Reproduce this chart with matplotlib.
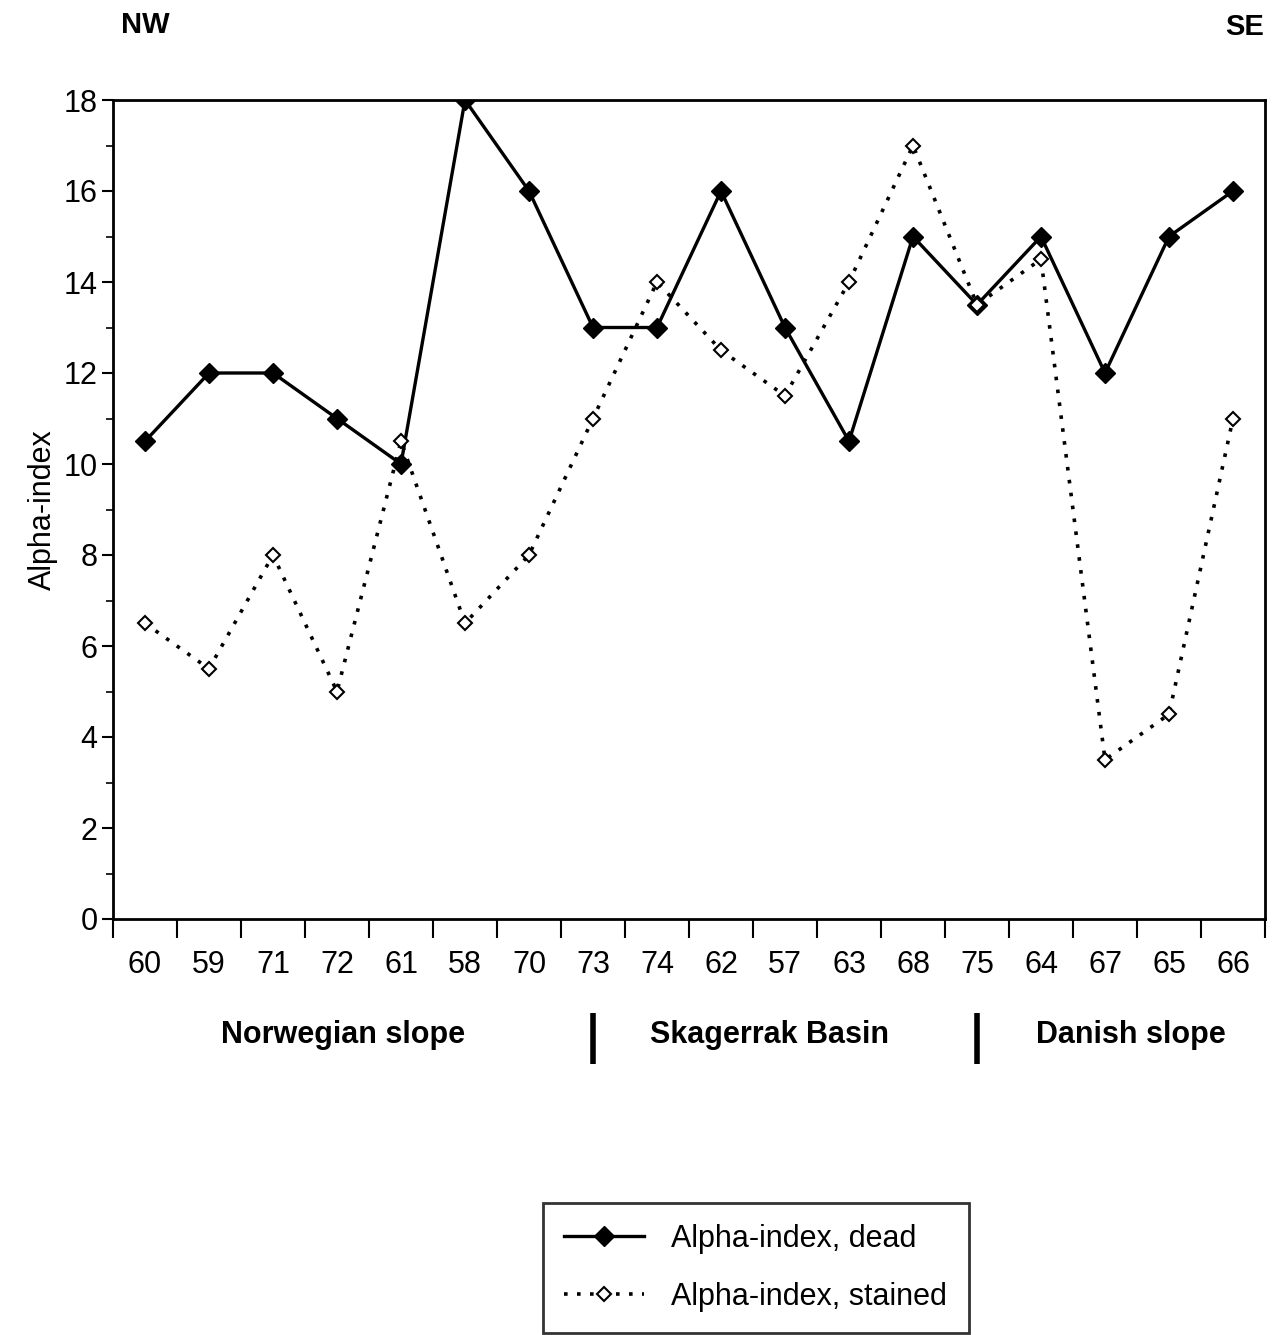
import numpy as np
import matplotlib.pyplot as plt
from matplotlib.ticker import MultipleLocator

plt.rcParams['font.family'] = ['Liberation Sans', 'DejaVu Sans']

stations = ['60', '59', '71', '72', '61', '58', '70', '73', '74',
            '62', '57', '63', '68', '75', '64', '67', '65', '66']
dead = [10.5, 12, 12, 11, 10, 18, 16, 13, 13,
        16, 13, 10.5, 15, 13.5, 15, 12, 15, 16]
stained = [6.5, 5.5, 8, 5, 10.5, 6.5, 8, 11, 14,
           12.5, 11.5, 14, 17, 13.5, 14.5, 3.5, 4.5, 11]
regions = ['Norwegian slope', 'Skagerrak Basin', 'Danish slope']

x = np.arange(len(stations))

fig = plt.figure(figsize=(12.8, 13.35), dpi=100)
ax = fig.add_axes([113 / 1280, 1 - 919 / 1335, 1152 / 1280, 819 / 1335])

ax.plot(x, dead, '-', color='black', lw=2.4, marker='D', ms=10,
        mfc='black', mec='black', label='Alpha-index, dead')
ax.plot(x, stained, linestyle=(0, (1, 2.6)), color='black', lw=2.6,
        marker='D', ms=7, mfc='white', mec='black', mew=1.5,
        label='Alpha-index, stained')

ax.set_xlim(-0.5, len(stations) - 0.5)
ax.set_ylim(0, 18)
ax.yaxis.set_major_locator(MultipleLocator(2))
ax.yaxis.set_minor_locator(MultipleLocator(1))
ax.tick_params(axis='y', which='major', direction='out', length=8, width=1.5,
               labelsize=22, pad=3)
ax.tick_params(axis='y', which='minor', direction='out', length=5, width=1.2)

# station labels centred, tick marks on category boundaries
ax.set_xticks(x)
ax.set_xticklabels(stations)
ax.tick_params(axis='x', which='major', length=0, labelsize=22, pad=22)
ax.set_xticks(np.arange(-0.5, len(stations)), minor=True)
ax.tick_params(axis='x', which='minor', direction='out', length=14, width=1.5)

for s in ax.spines.values():
    s.set_linewidth(2)

ax.set_ylabel('Alpha-index', fontsize=22, labelpad=4)

fig.text(145 / 1280, 1 - 25 / 1335, 'NW', fontsize=21, fontweight='bold',
         ha='center', va='center')
fig.text(1245 / 1280, 1 - 27 / 1335, 'SE', fontsize=21, fontweight='bold',
         ha='center', va='center')

# region names under the stations
xform = ax.get_xaxis_transform()
for xc, name in zip((3.1, 9.75, 15.4), regions):
    ax.text(xc, -0.142, name, transform=xform, fontsize=22,
            fontweight='bold', ha='center', va='center')
for xb in (7.0, 13.0):
    ax.plot([xb, xb], [-0.115, -0.177], transform=xform,
            color='black', lw=4, clip_on=False, solid_capstyle='butt')

leg = fig.legend(loc='lower left', bbox_to_anchor=(543 / 1280, 2 / 1335),
                 frameon=True, fancybox=False, fontsize=22, handlelength=2.6,
                 borderpad=0.7, labelspacing=0.9, handletextpad=0.9,
                 borderaxespad=0)
leg.get_frame().set_edgecolor('black')
leg.get_frame().set_linewidth(2)

fig.savefig('out.png', dpi=100)
